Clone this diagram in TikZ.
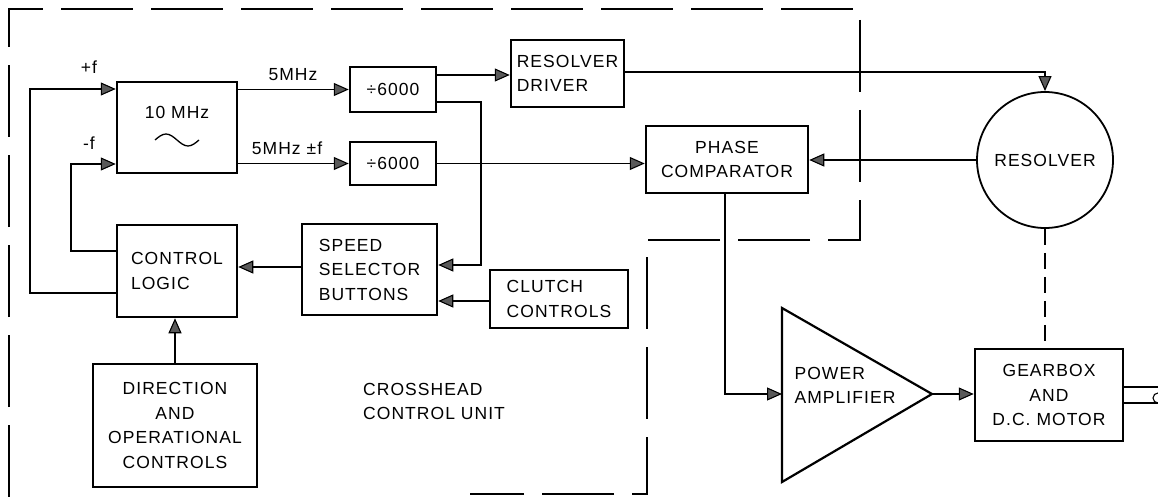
\documentclass[tikz,border=0pt]{standalone}
\usepackage{fontspec}
\setmainfont{Liberation Sans}[LetterSpace=6]
\usetikzlibrary{arrows.meta,calc}
\newcommand\dgfont{\fontsize{17.5}{24.5}\selectfont}
\tikzset{
  blk/.style={draw, line width=2.5pt, inner sep=0pt, align=center},
  conn/.style={line width=1.1pt, -{Triangle[length=15pt,width=13pt,fill=black!65]}},
  wire/.style={line width=1.1pt},
  border/.style={line width=1.3pt, dash pattern=on 72pt off 18pt},
  lbl/.style={inner sep=0pt},
  every node/.append style={font=\dgfont}
}
\begin{document}
\begin{tikzpicture}[x=1pt,y=-1pt]
\useasboundingbox (0,0) rectangle (1158,497);
% boxes
\node[blk, minimum width=120pt, minimum height=91pt] (osc) at (177,127.5) {};
\node[lbl] (osctxt) at (177,112) {10 MHz};
\draw[line width=1.3pt] (155,140) sin (166,134) cos (177,140) sin (188,146) cos (199,140);
\node[blk, minimum width=86pt, minimum height=45pt] (div1) at (393,89.5) {÷6000};
\node[blk, minimum width=86pt, minimum height=43pt] (div2) at (393,163.5) {÷6000};
\node[blk, minimum width=113pt, minimum height=67pt, align=left] (drv) at (567.5,73.5) {RESOLVER\\DRIVER};
\node[blk, minimum width=162pt, minimum height=67pt] (pc) at (727,159.5) {PHASE\\COMPARATOR};
\node[draw, circle, line width=1.8pt, minimum size=136pt, inner sep=0pt] (res) at (1045,160) {RESOLVER};
\node[blk, minimum width=120pt, minimum height=92pt, align=left] (cl) at (177,271) {CONTROL\\LOGIC};
\node[blk, minimum width=135pt, minimum height=91pt, align=left] (ssb) at (369.5,269.5) {SPEED\\SELECTOR\\BUTTONS};
\node[blk, minimum width=138pt, minimum height=58pt, align=left] (clutch) at (559,299) {CLUTCH\\CONTROLS};
\node[blk, minimum width=164pt, minimum height=123pt] (dir) at (175,425.5) {DIRECTION\\AND\\OPERATIONAL\\CONTROLS};
\node[blk, minimum width=148pt, minimum height=92pt] (gb) at (1049,395) {GEARBOX\\AND\\D.C. MOTOR};
% power amplifier
\coordinate (ampin) at (782,394);
\coordinate (ampout) at (932,394);
\draw[line width=2.2pt, line join=miter] (782,308) -- (782,482) -- (ampout) -- cycle;
\node[lbl, align=left] (amptxt) at (845,385.5) {POWER\\AMPLIFIER};
% labels
\node[lbl] (lpf) at (89,67) {+f};
\node[lbl] (lmf) at (89,143) {-f};
\node[lbl] (l5) at (293,75) {5MHz};
\node[lbl] (l5f) at (287,148) {5MHz ±f};
\node[lbl, align=left, anchor=west] (unit) at (363,401.5) {CROSSHEAD\\CONTROL UNIT};
% connectors
\draw[conn] (osc.east |- div1.west) -- (div1.west);
\draw[conn] (osc.east |- div2.west) -- (div2.west);
\draw[conn] (div1.east |- 0,75) -- (drv.west |- 0,75);
\draw[conn] (div1.east |- 0,102) -| (481,265) -- (ssb.east |- 0,265);
\draw[conn] (clutch.west |- 0,301) -- (ssb.east |- 0,301);
\draw[conn] (ssb.west |- 0,267) -- (cl.east |- 0,267);
\draw[conn] (dir.north) -- (dir.north |- cl.south);
\draw[conn] (cl.west |- 0,251) -| (71,164) -- (osc.west |- 0,164);
\draw[conn] (cl.west |- 0,293) -| (30,89) -- (osc.west |- 0,89);
\draw[conn] (div2.east) -- (div2.east -| pc.west);
\draw[conn] (drv.east |- 0,72) -| (res.north);
\draw[conn] (res.west) -- (res.west -| pc.east);
\draw[conn] (725,0 |- pc.south) |- (ampin);
\draw[conn] (ampout) -- (ampout -| gb.west);
\draw[wire, dash pattern=on 16pt off 8pt] (res.south) -- (res.south |- gb.north);
% shaft
\draw[wire] (gb.east |- 0,387) -- (1158,387);
\draw[wire] (gb.east |- 0,403) -- (1158,403);
\draw[wire] (1158,393) arc[start angle=90, end angle=270, radius=5pt];
% dashed unit border
\draw[border] (9,497) -- (9,9) -- (860,9) -- (860,240) -- (647,240) -- (647,494) -- (470,494);
\end{tikzpicture}
\end{document}
